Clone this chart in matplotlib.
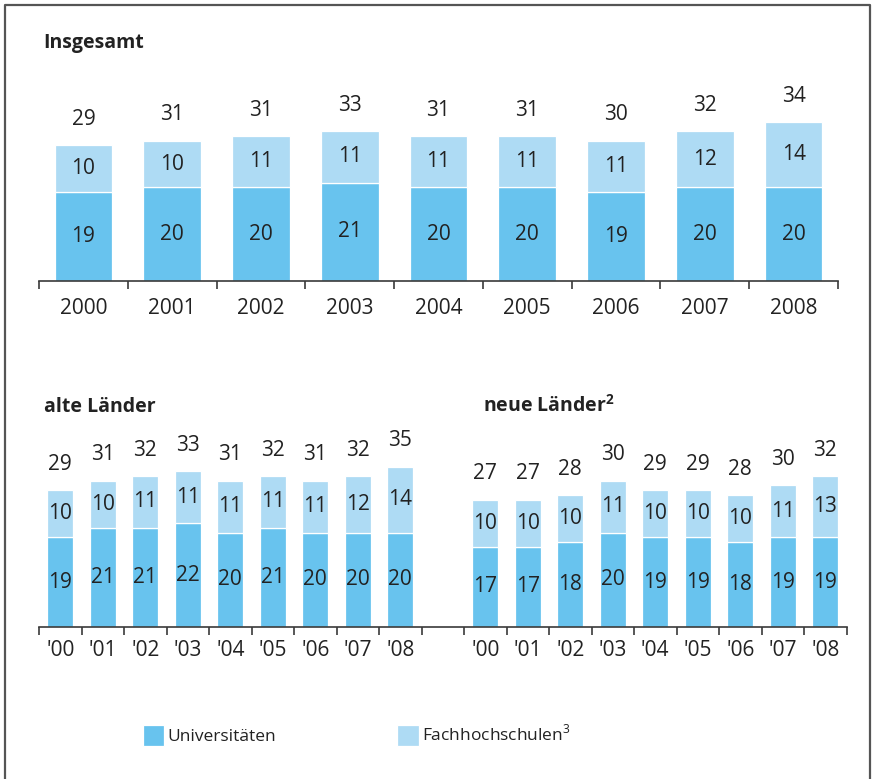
import matplotlib
matplotlib.use("Agg")
import matplotlib.pyplot as plt
from matplotlib.lines import Line2D
import numpy as np

plt.rcParams['font.family'] = ['Open Sans', 'DejaVu Sans']
plt.rcParams['mathtext.fontset'] = 'custom'
plt.rcParams['mathtext.bf'] = 'Open Sans:bold'
plt.rcParams['mathtext.rm'] = 'Open Sans'

# ---- data ----
years = ["2000", "2001", "2002", "2003", "2004", "2005", "2006", "2007", "2008"]
short_years = ["'00", "'01", "'02", "'03", "'04", "'05", "'06", "'07", "'08"]

ges_uni = [19, 20, 20, 21, 20, 20, 19, 20, 20]
ges_fh = [10, 10, 11, 11, 11, 11, 11, 12, 14]
ges_tot = [29, 31, 31, 33, 31, 31, 30, 32, 34]

alt_uni = [19, 21, 21, 22, 20, 21, 20, 20, 20]
alt_fh = [10, 10, 11, 11, 11, 11, 11, 12, 14]
alt_tot = [29, 31, 32, 33, 31, 32, 31, 32, 35]

neu_uni = [17, 17, 18, 20, 19, 19, 18, 19, 19]
neu_fh = [10, 10, 10, 11, 10, 10, 10, 11, 13]
neu_tot = [27, 27, 28, 30, 29, 29, 28, 30, 32]

series_names = ["Universitäten", "Fachhochschulen$^{3}$"]

C_UNI = "#68c3ee"
C_FH = "#aedbf4"
TXT = "#222222"
AX = "#3a3a3a"
FS = 15

W, H = 873, 779
fig = plt.figure(figsize=(W / 100, H / 100), dpi=100)


def fx(px):
    return px / W


def fy(py):
    return 1 - py / H


def draw_panel(ax, xpos, uni, fh, tot, width, fs):
    b1 = ax.bar(xpos, uni, width=width, color=C_UNI, edgecolor="white", linewidth=0.9)
    b2 = ax.bar(xpos, fh, bottom=uni, width=width, color=C_FH, edgecolor="white", linewidth=0.9)
    for x, u, f, t in zip(xpos, uni, fh, tot):
        ax.text(x, u / 2, str(u), ha="center", va="center", fontsize=fs, color=TXT)
        ax.text(x, u + f / 2, str(f), ha="center", va="center", fontsize=fs, color=TXT)
        ax.annotate(str(t), (x, u + f), xytext=(0, 11), textcoords="offset points",
                    ha="center", va="bottom", fontsize=fs, color=TXT)
    return b1, b2


def style_axis(ax, n_slots, pad):
    for s in ["top", "right", "left"]:
        ax.spines[s].set_visible(False)
    ax.spines["bottom"].set_color(AX)
    ax.spines["bottom"].set_linewidth(1.2)
    ax.set_yticks([])
    ax.set_xlim(-0.5, n_slots - 0.5)
    ax.set_xticks(np.arange(-0.5, n_slots, 1.0), minor=True)
    ax.tick_params(axis="x", which="minor", length=6, width=1.2, color=AX, direction="out")
    ax.tick_params(axis="x", which="major", length=0, pad=pad, labelsize=FS, labelcolor=TXT)


# ---- top panel: Insgesamt ----
top_scale = 4.68
ax1 = fig.add_axes([fx(39), fy(281), fx(838 - 39), (281 - 60) / H])
x1 = np.arange(len(years))
handles = draw_panel(ax1, x1, ges_uni, ges_fh, ges_tot, 0.65, FS)
ax1.set_ylim(0, (281 - 60) / top_scale)
style_axis(ax1, len(years), 12)
ax1.set_xticks(x1)
ax1.set_xticklabels(years)

# ---- bottom panel: alte / neue Länder ----
bot_scale = 4.72
ax2 = fig.add_axes([fx(39), fy(627), fx(846.5 - 39), (627 - 430) / H])
xa = np.arange(9)
xn = np.arange(10, 19)
draw_panel(ax2, xa, alt_uni, alt_fh, alt_tot, 0.62, FS)
draw_panel(ax2, xn, neu_uni, neu_fh, neu_tot, 0.62, FS)
ax2.set_ylim(0, (627 - 430) / bot_scale)
style_axis(ax2, 19, 9)
ax2.set_xticks(np.concatenate([xa, xn]))
ax2.set_xticklabels(short_years + short_years)

# ---- titles ----
fig.text(fx(43), fy(48), "Insgesamt", fontsize=14, fontweight="bold", color=TXT,
         ha="left", va="baseline")
fig.text(fx(44), fy(412), "alte Länder", fontsize=14, fontweight="bold", color=TXT,
         ha="left", va="baseline")
fig.text(fx(483), fy(412), r"neue Länder$^{\mathbf{2}}$", fontsize=14, fontweight="bold",
         color=TXT, ha="left", va="baseline")

# ---- legend ----
leg = fig.legend(handles, series_names, loc="center left",
                 bbox_to_anchor=(fx(127), fy(735)), ncol=2, frameon=False,
                 fontsize=12.5, handlelength=1.25, handleheight=1.5,
                 handletextpad=0.2, columnspacing=6.95, labelcolor=TXT)

# ---- frame (open at bottom) ----
fig.add_artist(Line2D([fx(5), fx(5), fx(870), fx(870)],
                      [0, fy(5), fy(5), 0], color="#555555", linewidth=1.6))

fig.savefig("out.png", dpi=100)
